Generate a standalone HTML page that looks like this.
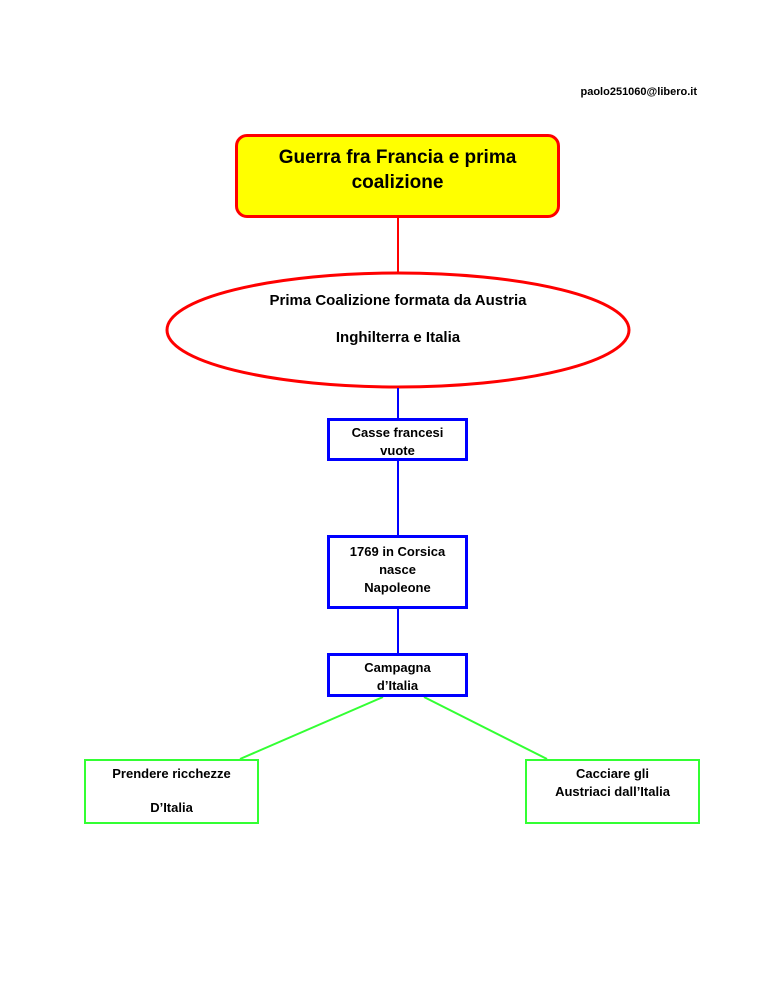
<!DOCTYPE html>
<html><head><style>
body{margin:0;width:768px;height:994px;background:#fff;position:relative;font-family:"Liberation Sans",Arial,sans-serif;font-weight:bold;color:#000;overflow:hidden}
.a{position:absolute;box-sizing:border-box;text-align:center}
</style></head><body>
<svg width="768" height="994" style="position:absolute;left:0;top:0">
<line x1="398" y1="218" x2="398" y2="272" stroke="#f00" stroke-width="2"/>
<ellipse cx="398" cy="330" rx="231" ry="57" fill="#fff" stroke="#f00" stroke-width="3"/>
<line x1="398" y1="388" x2="398" y2="418" stroke="#00f" stroke-width="2"/>
<line x1="398" y1="461" x2="398" y2="535" stroke="#00f" stroke-width="2"/>
<line x1="398" y1="609" x2="398" y2="653" stroke="#00f" stroke-width="2"/>
<line x1="383" y1="697" x2="240" y2="759" stroke="#3f3" stroke-width="2"/>
<line x1="424" y1="697" x2="547" y2="759" stroke="#3f3" stroke-width="2"/>
</svg>
<div class="a" style="top:86px;font-size:11px;text-align:right;left:530px;width:167px">paolo251060@libero.it</div>
<div class="a" style="left:235px;top:134px;width:325px;height:84px;background:#ff0;border:3px solid #f00;border-radius:12px;font-size:19px;line-height:25px;padding-top:8px">Guerra fra Francia e prima<br>coalizione</div>
<div class="a" style="left:166px;top:291px;width:464px;font-size:15px;line-height:20px">Prima Coalizione formata da Austria</div>
<div class="a" style="left:166px;top:328px;width:464px;font-size:15px;line-height:20px">Inghilterra e Italia</div>
<div class="a" style="left:327px;top:418px;width:141px;height:43px;border:3px solid #00f;background:#fff;font-size:13px;line-height:18px;padding-top:3px">Casse francesi<br>vuote</div>
<div class="a" style="left:327px;top:535px;width:141px;height:74px;border:3px solid #00f;background:#fff;font-size:13px;line-height:18px;padding-top:5px">1769 in Corsica<br>nasce<br>Napoleone</div>
<div class="a" style="left:327px;top:653px;width:141px;height:44px;border:3px solid #00f;background:#fff;font-size:13px;line-height:18px;padding-top:3px">Campagna<br>d’Italia</div>
<div class="a" style="left:84px;top:759px;width:175px;height:65px;border:2px solid #3f3;background:#fff;font-size:13px;line-height:18px;padding-top:4px">Prendere ricchezze<div style="margin-top:16px">D’Italia</div></div>
<div class="a" style="left:525px;top:759px;width:175px;height:65px;border:2px solid #3f3;background:#fff;font-size:13px;line-height:18px;padding-top:4px">Cacciare gli<br>Austriaci dall’Italia</div>
</body></html>
